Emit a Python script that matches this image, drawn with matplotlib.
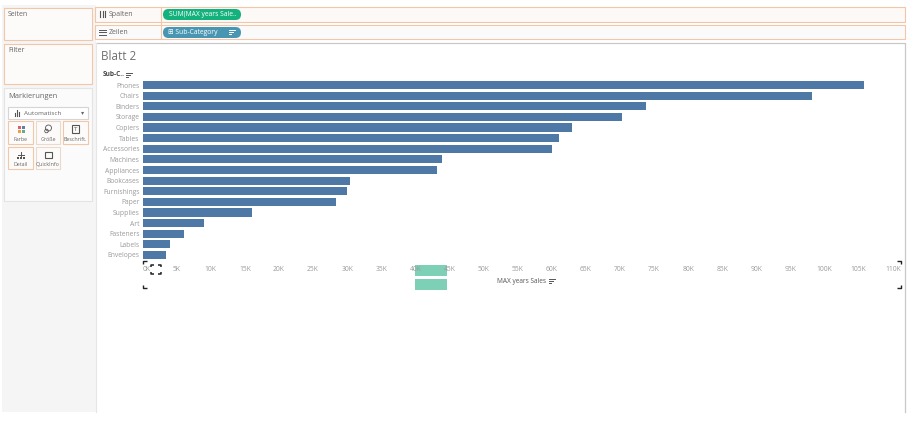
"""Tableau worksheet screenshot: MAX years Sales per Sub-Category, with the UI around it."""

import matplotlib

matplotlib.use("Agg")
import matplotlib.pyplot as plt
from matplotlib.patches import Circle, FancyBboxPatch, Rectangle
from matplotlib.ticker import FuncFormatter

plt.rcParams["font.family"] = ["Open Sans", "DejaVu Sans"]

W, H = 913, 436

categories = [
    "Phones", "Chairs", "Binders", "Storage", "Copiers", "Tables",
    "Accessories", "Machines", "Appliances", "Bookcases", "Furnishings",
    "Paper", "Supplies", "Art", "Fasteners", "Labels", "Envelopes",
]
max_sales = [
    105800, 98200, 73800, 70300, 63000, 61100, 60000, 43900, 43200,
    30400, 30000, 28300, 16000, 9000, 6100, 4000, 3400,
]
x_ticks = list(range(0, 110001, 5000))

BAR = "#4e79a7"
ORANGE = "#f3c6a8"
PANE = "#f5f5f5"
GREY = "#9a9a9a"
DARK = "#666666"


def box(ax, x0, y0, x1, y1, fc="none", ec="none", lw=0.8, z=1):
    ax.add_patch(Rectangle((x0, y0), x1 - x0, y1 - y0, fc=fc, ec=ec, lw=lw, zorder=z))


def pill(ax, x0, y0, x1, y1, fc, text):
    r = (y1 - y0) / 2
    ax.add_patch(FancyBboxPatch((x0 + r, y0 + r), x1 - x0 - 2 * r, 0,
                                boxstyle=f"round,pad={r}", fc=fc, ec="none", zorder=3))
    ax.text(x0 + 6, (y0 + y1) / 2, text, color="white", fontsize=4.9, va="center", zorder=4)


def sort_icon(ax, x, y, color="#555555"):
    for i, w in enumerate([6, 4, 2]):
        ax.plot([x, x + w], [y + i * 2, y + i * 2], color=color, lw=0.7, zorder=5)


def corner(ax, x, y, dx, dy, lw=1.0):
    ax.plot([x + dx, x, x], [y, y, y + dy], color="#222222", lw=lw, zorder=6,
            solid_capstyle="butt")


fig = plt.figure(figsize=(W / 100, H / 100), dpi=100, facecolor="white")

# UI chrome in pixel coordinates
ui = fig.add_axes([0, 0, 1, 1])
ui.set_xlim(0, W)
ui.set_ylim(H, 0)
ui.axis("off")

box(ui, 2, 5, 95.5, 412, fc=PANE)
ui.plot([95.5, 905, 905], [43, 43, 412], color="#c8c8c8", lw=0.9)
ui.plot([95.5, 95.5], [43, 412], color="#e6e6e6", lw=0.8)
box(ui, 4, 8, 92, 40, fc="#fdfbfa", ec=ORANGE)
box(ui, 4, 44, 92, 84, fc="#fdfbfa", ec=ORANGE)
box(ui, 4, 88, 92, 201, fc="#fbfbfb", ec="#e4e4e4")
box(ui, 95, 7, 905, 22, fc="#fdf9f7", ec=ORANGE)
box(ui, 95, 25, 905, 39, fc="#fbfafa", ec=ORANGE)
ui.plot([161, 161], [7, 39], color=ORANGE, lw=0.8)

ui.text(8, 15, "Seiten", fontsize=5.0, color=DARK, va="center")
ui.text(8, 51, "Filter", fontsize=5.0, color=DARK, va="center")
ui.text(8, 96, "Markierungen", fontsize=5.4, color=DARK, va="center")
for x in [100, 102.5, 105]:
    ui.plot([x, x], [11.5, 17.5], color="#555555", lw=0.8)
ui.text(109, 14.5, "Spalten", fontsize=5.0, color=DARK, va="center")
for y in [30, 32.5, 35]:
    ui.plot([99, 105.5], [y, y], color="#555555", lw=0.7)
ui.text(109, 32.5, "Zeilen", fontsize=5.0, color=DARK, va="center")
pill(ui, 163, 9, 241, 20, "#13b17c", "SUM(MAX years Sale..")
pill(ui, 163, 27, 241, 38, "#4996b2", "")
ui.text(168.5, 32.5, "⊞ Sub-Category", color="white", fontsize=4.9, va="center", zorder=4)
sort_icon(ui, 229, 30, "white")

# marks card
box(ui, 8, 107, 88, 119, fc="white", ec="#d5d5d5")
ui.text(24, 113, "Automatisch", fontsize=4.6, color=DARK, va="center")
for x, y0 in [(15, 113), (17, 110), (19, 112)]:
    ui.plot([x, x], [y0, 116], color="#555555", lw=0.8)
ui.text(83, 113, "▾", fontsize=4.5, color=DARK, ha="center", va="center")
mark_boxes = [
    (8, 121, 33, 144, "Farbe", ORANGE),
    (36, 121, 60, 144, "Größe", "#ead9cd"),
    (63, 121, 88, 144, "Beschrift.", ORANGE),
    (8, 147, 33, 169, "Detail", ORANGE),
    (36, 147, 60, 169, "QuickInfo", "#ead9cd"),
]
for x0, y0, x1, y1, label, ec in mark_boxes:
    box(ui, x0, y0, x1, y1, fc="#fdfbfa", ec=ec)
    ui.text((x0 + x1) / 2, y1 - 5, label, fontsize=3.8, color=DARK, ha="center", va="center")
for x, y, c in [(18, 125.5, "#d9616b"), (22, 125.5, "#5d7fa8"), (18, 130, "#e8a04c"), (22, 130, "#6ba88c")]:
    box(ui, x, y, x + 3, y + 3, fc=c, z=3)
# size, label, detail and tooltip glyphs
ui.add_patch(Circle((48.5, 128), 3, fc="none", ec="#555555", lw=0.6, zorder=3))
ui.add_patch(Circle((46.5, 131), 1.8, fc="none", ec="#555555", lw=0.6, zorder=3))
box(ui, 72, 125, 79, 133, ec="#555555", z=3)
ui.text(75.5, 129, "T", fontsize=4.5, color="#555555", ha="center", va="center")
ui.plot([20.5, 20.5], [152, 158], color="#555555", lw=0.7)
ui.plot([17.5, 23.5], [155.5, 155.5], color="#555555", lw=0.7)
for x in [17.5, 20.5, 23.5]:
    box(ui, x - 1, 156.5, x + 1, 159, fc="#555555", z=3)
box(ui, 44.5, 152, 52, 157.5, ec="#555555", z=3)

ui.text(101, 57, "Blatt 2", fontsize=8.4, color="#707070", va="center")
ui.text(103, 75, "Sub-C..", fontsize=4.7, color="#444444", va="center", fontweight="bold")
sort_icon(ui, 126, 73)

# drop targets sit under the axis labels
box(ui, 415, 265, 447, 276, fc="#7dcfb6", z=3)
box(ui, 415, 279, 447, 290, fc="#7dcfb6", z=3)

ui.text(497, 281, "MAX years Sales", fontsize=4.7, color="#555555", ha="left", va="center")
sort_icon(ui, 549, 279)

# selection handles
corner(ui, 143, 261, 4, 3)
corner(ui, 143, 288, 4, -3)
corner(ui, 900.5, 261, -4, 3)
corner(ui, 900.5, 288, -4, -3)
for x, dx in [(150.5, 3), (160.5, -3)]:
    corner(ui, x, 264.5, dx, 2.5, lw=1.1)
    corner(ui, x, 274, dx, -2.5, lw=1.1)

# chart: 0 at 142.5 px, 110K at 892.8 px, rows 85 to 255 px
ax = fig.add_axes([142.5 / W, 1 - 260.3 / H, (892.8 - 142.5) / W, (260.3 - 79.7) / H])
ax.patch.set_alpha(0)
ax.barh(categories, max_sales, height=0.76, color=BAR, zorder=2)
ax.set_xlim(0, 110000)
ax.set_ylim(16.5, -0.5)
ax.set_xticks(x_ticks)
ax.xaxis.set_major_formatter(FuncFormatter(lambda v, _: f"{v / 1000:.0f}K"))
ax.tick_params(axis="both", length=0, labelsize=4.9, labelcolor=GREY)
ax.tick_params(axis="x", pad=4)
ax.tick_params(axis="y", pad=2.2)
ax.get_xticklabels()[0].set_ha("left")
for s in ax.spines.values():
    s.set_visible(False)

fig.savefig("out.png", dpi=100)
